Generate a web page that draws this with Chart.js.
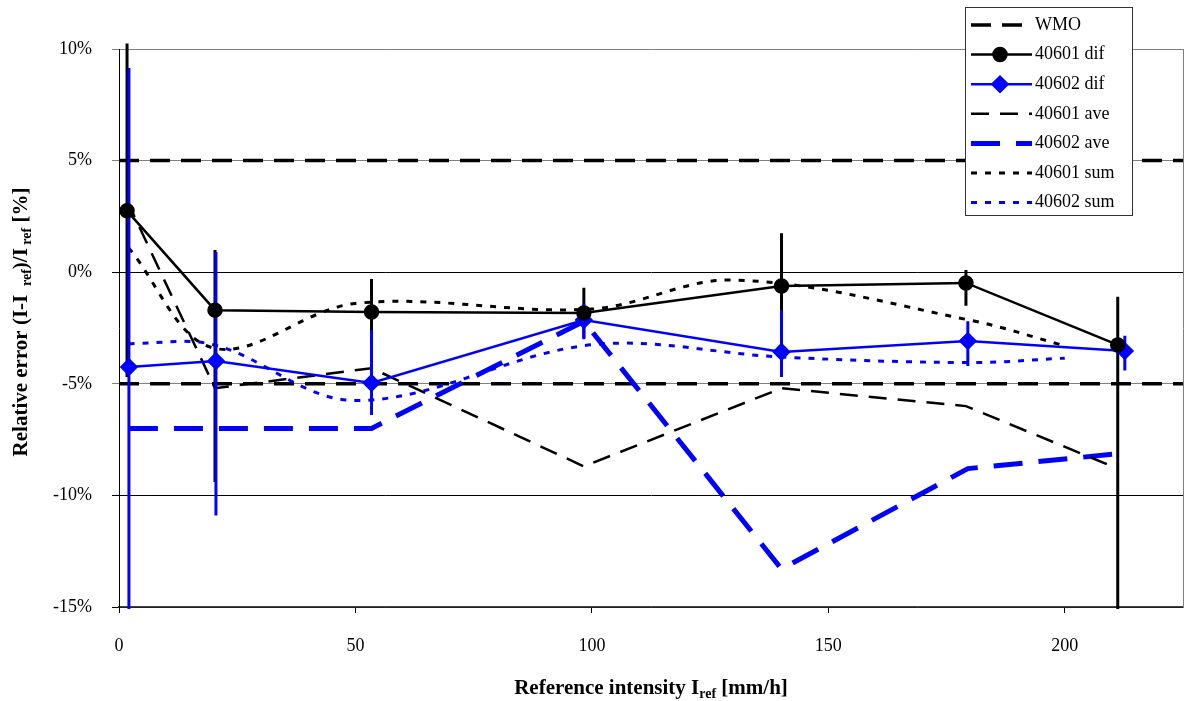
<!DOCTYPE html>
<html>
<head>
<meta charset="utf-8">
<script src="https://cdn.jsdelivr.net/npm/chart.js@4.4.1/dist/chart.umd.min.js"></script>
<style>html,body{margin:0;padding:0;background:#fff}</style>
</head>
<body>
<canvas id="chart" width="1184" height="701"></canvas>
<script>
'use strict';

// station 40601
let x40601 = [1.7, 20.3, 53.4, 98.3, 140.1, 179.1, 211.2];
let dif40601 = [2.75, -1.70, -1.78, -1.83, -0.62, -0.48, -3.26];
let errHi40601 = [10.25, 1.0, -0.3, -0.7, 1.75, 0.1, -1.1];
let errLo40601 = [-4.7, -9.4, -3.3, -2.95, -3.0, -1.5, -16];
let ave40601 = [3.2, -5.2, -4.3, -8.7, -5.2, -6.0, -8.8];

// station 40602
let x40602 = [2.1, 20.5, 53.4, 98.3, 140.1, 179.5, 212.7];
let dif40602 = [-4.25, -3.98, -4.96, -2.14, -3.57, -3.08, -3.53];
let errHi40602 = [9.15, 0.9, -2.6, -1.4, -1.7, -2.2, -2.85];
let errLo40602 = [-16, -10.9, -6.4, -3.0, -4.7, -4.2, -4.4];
let ave40602 = [-7.0, -7.0, -7.0, -2.2, -13.3, -8.8, -8.1];

// sum method
let xSum40601 = [2, 20, 50, 100, 130, 180, 200];
let sum40601 = [1.1, -3.4, -1.4, -1.65, -0.35, -2.15, -3.3];
let xSum40602 = [2, 20, 50, 100, 140, 180, 200];
let sum40602 = [-3.2, -3.25, -5.75, -3.25, -3.8, -4.05, -3.85];

// WMO limits
let wmoLimits = [5, -5];
let xRange = [0, 225];
let yTicks = [-15, -10, -5, 0, 5, 10];

let BLUE = '#0000ff';

function pairs(xs, ys) {
  return xs.map((x, i) => ({x: x, y: ys[i]}));
}

function errorBars(xs, lo, hi) {
  let pts = [];
  xs.forEach((x, i) => {
    pts.push({x: x, y: lo[i]}, {x: x, y: hi[i]}, {x: x, y: null});
  });
  return pts;
}

function limitLines(levels) {
  let pts = [];
  levels.forEach(v => {
    pts.push({x: xRange[0], y: v}, {x: xRange[1], y: v}, {x: xRange[1], y: null});
  });
  return pts;
}

function drawRich(ctx, parts, cx, cy, rot) {
  ctx.save();
  ctx.translate(cx, cy);
  ctx.rotate(rot);
  let total = 0;
  parts.forEach(p => {
    ctx.font = p.sub ? 'bold 14px "Liberation Serif"' : 'bold 21px "Liberation Serif"';
    p.w = ctx.measureText(p.t).width;
    total += p.w;
  });
  let x = -total / 2;
  ctx.fillStyle = '#000';
  ctx.textBaseline = 'middle';
  ctx.textAlign = 'left';
  parts.forEach(p => {
    ctx.font = p.sub ? 'bold 14px "Liberation Serif"' : 'bold 21px "Liberation Serif"';
    ctx.fillText(p.t, x, p.sub ? 5 : 0);
    x += p.w;
  });
  ctx.restore();
}

let axisTitles = {
  id: 'axisTitles',
  afterDraw(chart) {
    let a = chart.chartArea;
    drawRich(chart.ctx, [
      {t: 'Reference intensity I'}, {t: 'ref', sub: true}, {t: ' [mm/h]'}
    ], (a.left + a.right) / 2, 689, 0);
    drawRich(chart.ctx, [
      {t: 'Relative error (I-I '}, {t: ' ref', sub: true}, {t: ')/I'}, {t: ' ref', sub: true}, {t: ' [%]'}
    ], 22, (a.top + a.bottom) / 2 - 6, -Math.PI / 2);
  }
};

let boxLegend = {
  id: 'boxLegend',
  afterDraw(chart) {
    let ctx = chart.ctx;
    let items = chart.data.datasets.filter(ds => !ds.noLegend);
    let left = chart.chartArea.right - 218;
    let top = 7;
    let rowH = 29.6;
    ctx.save();
    ctx.fillStyle = '#fff';
    ctx.fillRect(left, top, 167, 208);
    ctx.strokeStyle = '#333';
    ctx.lineWidth = 1;
    ctx.strokeRect(left + 0.5, top + 0.5, 167, 208);
    items.forEach((ds, i) => {
      let y = top + 18 + i * rowH;
      ctx.setLineDash(ds.borderDash || []);
      ctx.lineWidth = ds.borderWidth;
      ctx.strokeStyle = ds.borderColor;
      ctx.beginPath();
      ctx.moveTo(left + 6, y);
      ctx.lineTo(left + 67, y);
      ctx.stroke();
      ctx.setLineDash([]);
      if (ds.pointRadius > 0) {
        ctx.fillStyle = ds.pointBackgroundColor;
        ctx.strokeStyle = ds.pointBorderColor;
        Chart.helpers.drawPoint(ctx, {
          pointStyle: ds.pointStyle, radius: ds.pointRadius, rotation: 0, borderWidth: 1
        }, left + 35, y);
      }
      ctx.fillStyle = '#000';
      ctx.font = '18px "Liberation Serif"';
      ctx.textBaseline = 'middle';
      ctx.fillText(ds.label, left + 70, y);
    });
    ctx.restore();
  }
};

let datasets = [
  {
    label: 'WMO', data: limitLines(wmoLimits),
    borderColor: '#000', borderWidth: 3.5, borderDash: [20, 11],
    pointRadius: 0, spanGaps: false, order: 9
  },
  {
    label: '40601 dif', data: pairs(x40601, dif40601),
    borderColor: '#000', borderWidth: 2.5,
    pointStyle: 'circle', pointRadius: 6.5,
    pointBackgroundColor: '#000', pointBorderColor: '#000', order: 1
  },
  {
    label: '40602 dif', data: pairs(x40602, dif40602),
    borderColor: BLUE, borderWidth: 2.5,
    pointStyle: 'rectRot', pointRadius: 7.5,
    pointBackgroundColor: BLUE, pointBorderColor: BLUE, order: 2
  },
  {
    label: '40601 ave', data: pairs(x40601, ave40601),
    borderColor: '#000', borderWidth: 2.5, borderDash: [18, 11],
    pointRadius: 0, order: 7
  },
  {
    label: '40602 ave', data: pairs(x40602, ave40602),
    borderColor: BLUE, borderWidth: 5, borderDash: [29, 16],
    pointRadius: 0, order: 8
  },
  {
    label: '40601 sum', data: pairs(xSum40601, sum40601),
    borderColor: '#000', borderWidth: 3, borderDash: [6, 8],
    pointRadius: 0, tension: 0.35, order: 5
  },
  {
    label: '40602 sum', data: pairs(xSum40602, sum40602),
    borderColor: BLUE, borderWidth: 3, borderDash: [6, 8],
    pointRadius: 0, tension: 0.35, order: 6
  },
  {
    label: '40601 err', noLegend: true, data: errorBars(x40601, errLo40601, errHi40601),
    borderColor: '#000', borderWidth: 3, pointRadius: 0, spanGaps: false,
    clip: {left: 10, top: 6, right: 10, bottom: 2}, order: 4
  },
  {
    label: '40602 err', noLegend: true, data: errorBars(x40602, errLo40602, errHi40602),
    borderColor: BLUE, borderWidth: 3, pointRadius: 0, spanGaps: false,
    clip: {left: 10, top: 6, right: 10, bottom: 2}, order: 3
  }
];

let config = {
  type: 'line',
  data: {datasets: datasets},
  options: {
    responsive: false,
    animation: false,
    layout: {autoPadding: false, padding: {top: 49, right: 1, left: 0, bottom: 0}},
    plugins: {legend: {display: false}, tooltip: {enabled: false}},
    scales: {
      x: {
        type: 'linear', min: xRange[0], max: xRange[1],
        afterFit: scale => {
          scale.height = 94;
          scale.paddingLeft = 0;
          scale.paddingRight = 0;
        },
        border: {color: '#444', width: 1.5},
        grid: {drawOnChartArea: false, tickLength: 6, color: '#000'},
        ticks: {
          stepSize: 50, includeBounds: false, padding: 22, color: '#000',
          font: {family: 'Liberation Serif', size: 18}
        }
      },
      y: {
        type: 'linear', min: yTicks[0], max: yTicks[yTicks.length - 1],
        afterFit: scale => { scale.width = 119; },
        border: {color: '#000', width: 1},
        grid: {
          tickLength: 7,
          color: c => (c.tick && (c.tick.value === 10 || Math.abs(c.tick.value) === 5)) ? '#808080' : '#000'
        },
        ticks: {
          stepSize: 5, padding: 20, color: '#000',
          font: {family: 'Liberation Serif', size: 18},
          callback: v => v + '%'
        }
      },
      yRight: {
        type: 'linear', position: 'right', min: yTicks[0], max: yTicks[yTicks.length - 1],
        afterFit: scale => {
          scale.width = 0;
          scale.paddingTop = 0;
          scale.paddingBottom = 0;
        },
        grid: {display: false, drawTicks: false},
        border: {color: '#808080', width: 1},
        ticks: {display: false}
      }
    }
  },
  plugins: [axisTitles, boxLegend]
};

let canvasElem = document.getElementById('chart');
new Chart(canvasElem, config);
</script>
</body>
</html>
